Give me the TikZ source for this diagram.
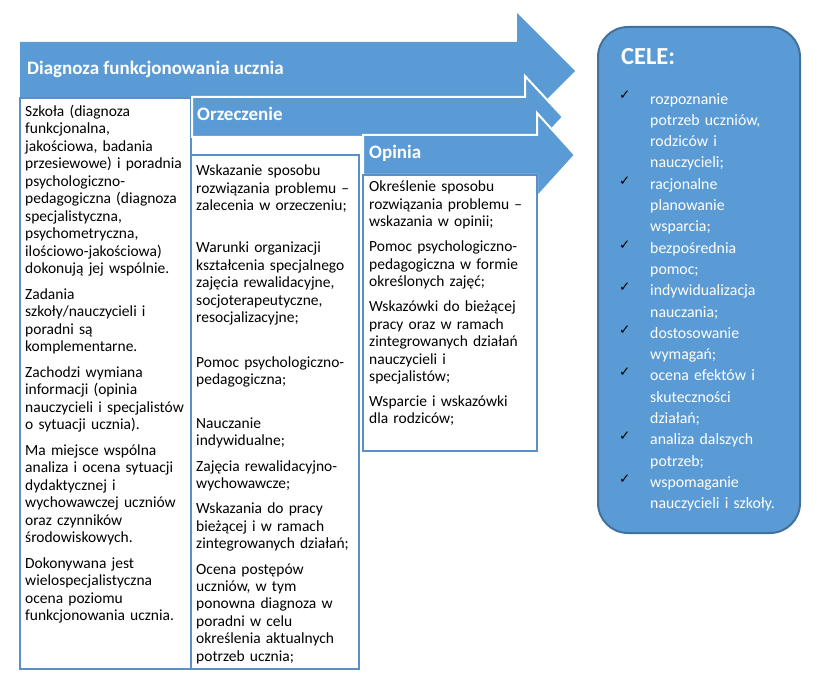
\documentclass[tikz,border=0pt]{standalone}
\usepackage{fontspec}
\setmainfont{Carlito}
\newfontfamily\symfont{DejaVu Sans}
\definecolor{arrowblue}{HTML}{5B9BD5}
\definecolor{boxline}{HTML}{5B8FC7}
\definecolor{celeline}{HTML}{41719C}
\begin{document}
\begin{tikzpicture}[x=1pt,y=-1pt,
  arrowshape/.style={fill=arrowblue},
  subarrow/.style={fill=arrowblue,draw=white,line width=2pt},
  textbox/.style={fill=white,draw=boxline,line width=2pt},
  title/.style={font=\fontsize{19}{22}\selectfont\bfseries,text=white,anchor=base west,inner sep=0pt},
  bodytext/.style={font=\fontsize{15.5}{17.45}\selectfont,align=left,anchor=north west,inner sep=0pt},
  celetext/.style={font=\fontsize{15.8}{21.3}\selectfont,align=left,anchor=north west,inner sep=0pt,text=white,text width=145pt},
  check/.style={font=\symfont\fontsize{13.5}{14}\selectfont,anchor=base west,inner sep=0pt}
]
\useasboundingbox (0,0) rectangle (817,687);
% big arrow
\fill[arrowshape] (20,42) -- (517,42) -- (517,13) -- (575,71) -- (517,129) -- (517,98) -- (20,98) -- cycle;
\node[title] (t1) at (27,75) {Diagnoza funkcjonowania ucznia};
% box 1
\draw[textbox] (20,98) rectangle (191,669);
\node[bodytext,text width=168pt] (b1) at (25,105) {Szkoła (diagnoza\\funkcjonalna,\\jakościowa, badania\\przesiewowe) i poradnia\\psychologiczno-\\pedagogiczna (diagnoza\\specjalistyczna,\\psychometryczna,\\ilościowo-jakościowa)\\dokonują jej wspólnie.\\[8.3pt]
Zadania\\szkoły/nauczycieli i\\poradni są\\komplementarne.\\[8.3pt]
Zachodzi wymiana\\informacji (opinia\\nauczycieli i specjalistów\\o sytuacji ucznia).\\[8.3pt]
Ma miejsce wspólna\\analiza i ocena sytuacji\\dydaktycznej i\\wychowawczej uczniów\\oraz czynników\\środowiskowych.\\[8.3pt]
Dokonywana jest\\wielospecjalistyczna\\ocena poziomu\\funkcjonowania ucznia.};
% Orzeczenie arrow
\filldraw[subarrow] (192,97) -- (525,97) -- (525,76) -- (563,117) -- (525,158) -- (525,137) -- (192,137) -- cycle;
\node[title] (t2) at (197,120.5) {Orzeczenie};
% box 2
\draw[textbox] (191,155) rectangle (359,669);
\node[bodytext,text width=166pt] (b2) at (196,165) {Wskazanie sposobu\\rozwiązania problemu –\\zalecenia w orzeczeniu;\\[24.5pt]
Warunki organizacji\\kształcenia specjalnego\\zajęcia rewalidacyjne,\\socjoterapeutyczne,\\resocjalizacyjne;\\[27pt]
Pomoc psychologiczno-\\pedagogiczna;\\[26.5pt]
Nauczanie\\indywidualne;\\[7.8pt]
Zajęcia rewalidacyjno-\\wychowawcze;\\[7.8pt]
Wskazania do pracy\\bieżącej i w ramach\\zintegrowanych działań;\\[7.8pt]
Ocena postępów\\uczniów, w tym\\ponowna diagnoza w\\poradni w celu\\określenia aktualnych\\potrzeb ucznia;};
% Opinia arrow
\filldraw[subarrow] (363,135) -- (537,135) -- (537,113) -- (575,155) -- (537,197) -- (537,175) -- (363,175) -- cycle;
\node[title] (t3) at (369,159) {Opinia};
% box 3
\draw[textbox] (363,175) rectangle (537,451);
\node[bodytext,text width=168pt] (b3) at (369,181) {Określenie sposobu\\rozwiązania problemu –\\wskazania w opinii;\\[7.5pt]
Pomoc psychologiczno-\\pedagogiczna w formie\\określonych zajęć;\\[7.5pt]
Wskazówki do bieżącej\\pracy oraz w ramach\\zintegrowanych działań\\nauczycieli i\\specjalistów;\\[7.5pt]
Wsparcie i wskazówki\\dla rodziców;};
% CELE box
\draw[fill=arrowblue,draw=celeline,line width=2pt,rounded corners=30pt] (598,27) rectangle (800,533);
\node[font=\fontsize{24.5}{28}\selectfont\bfseries,text=white,anchor=base west,inner sep=0pt] (cele) at (621,65) {CELE:};
\node[celetext] (items) at (650,93) {rozpoznanie\\potrzeb uczniów,\\rodziców i\\nauczycieli;\\racjonalne\\planowanie\\wsparcia;\\bezpośrednia\\pomoc;\\indywidualizacja\\nauczania;\\dostosowanie\\wymagań;\\ocena efektów i\\skuteczności\\działań;\\analiza dalszych\\potrzeb;\\wspomaganie\\nauczycieli i szkoły.};
\foreach \i/\n in {0/c1,4/c2,7/c3,9/c4,11/c5,13/c6,16/c7,18/c8}{
  \node[check] (\n) at (619,{100+21.3*\i}) {✓};
}
\end{tikzpicture}
\end{document}
